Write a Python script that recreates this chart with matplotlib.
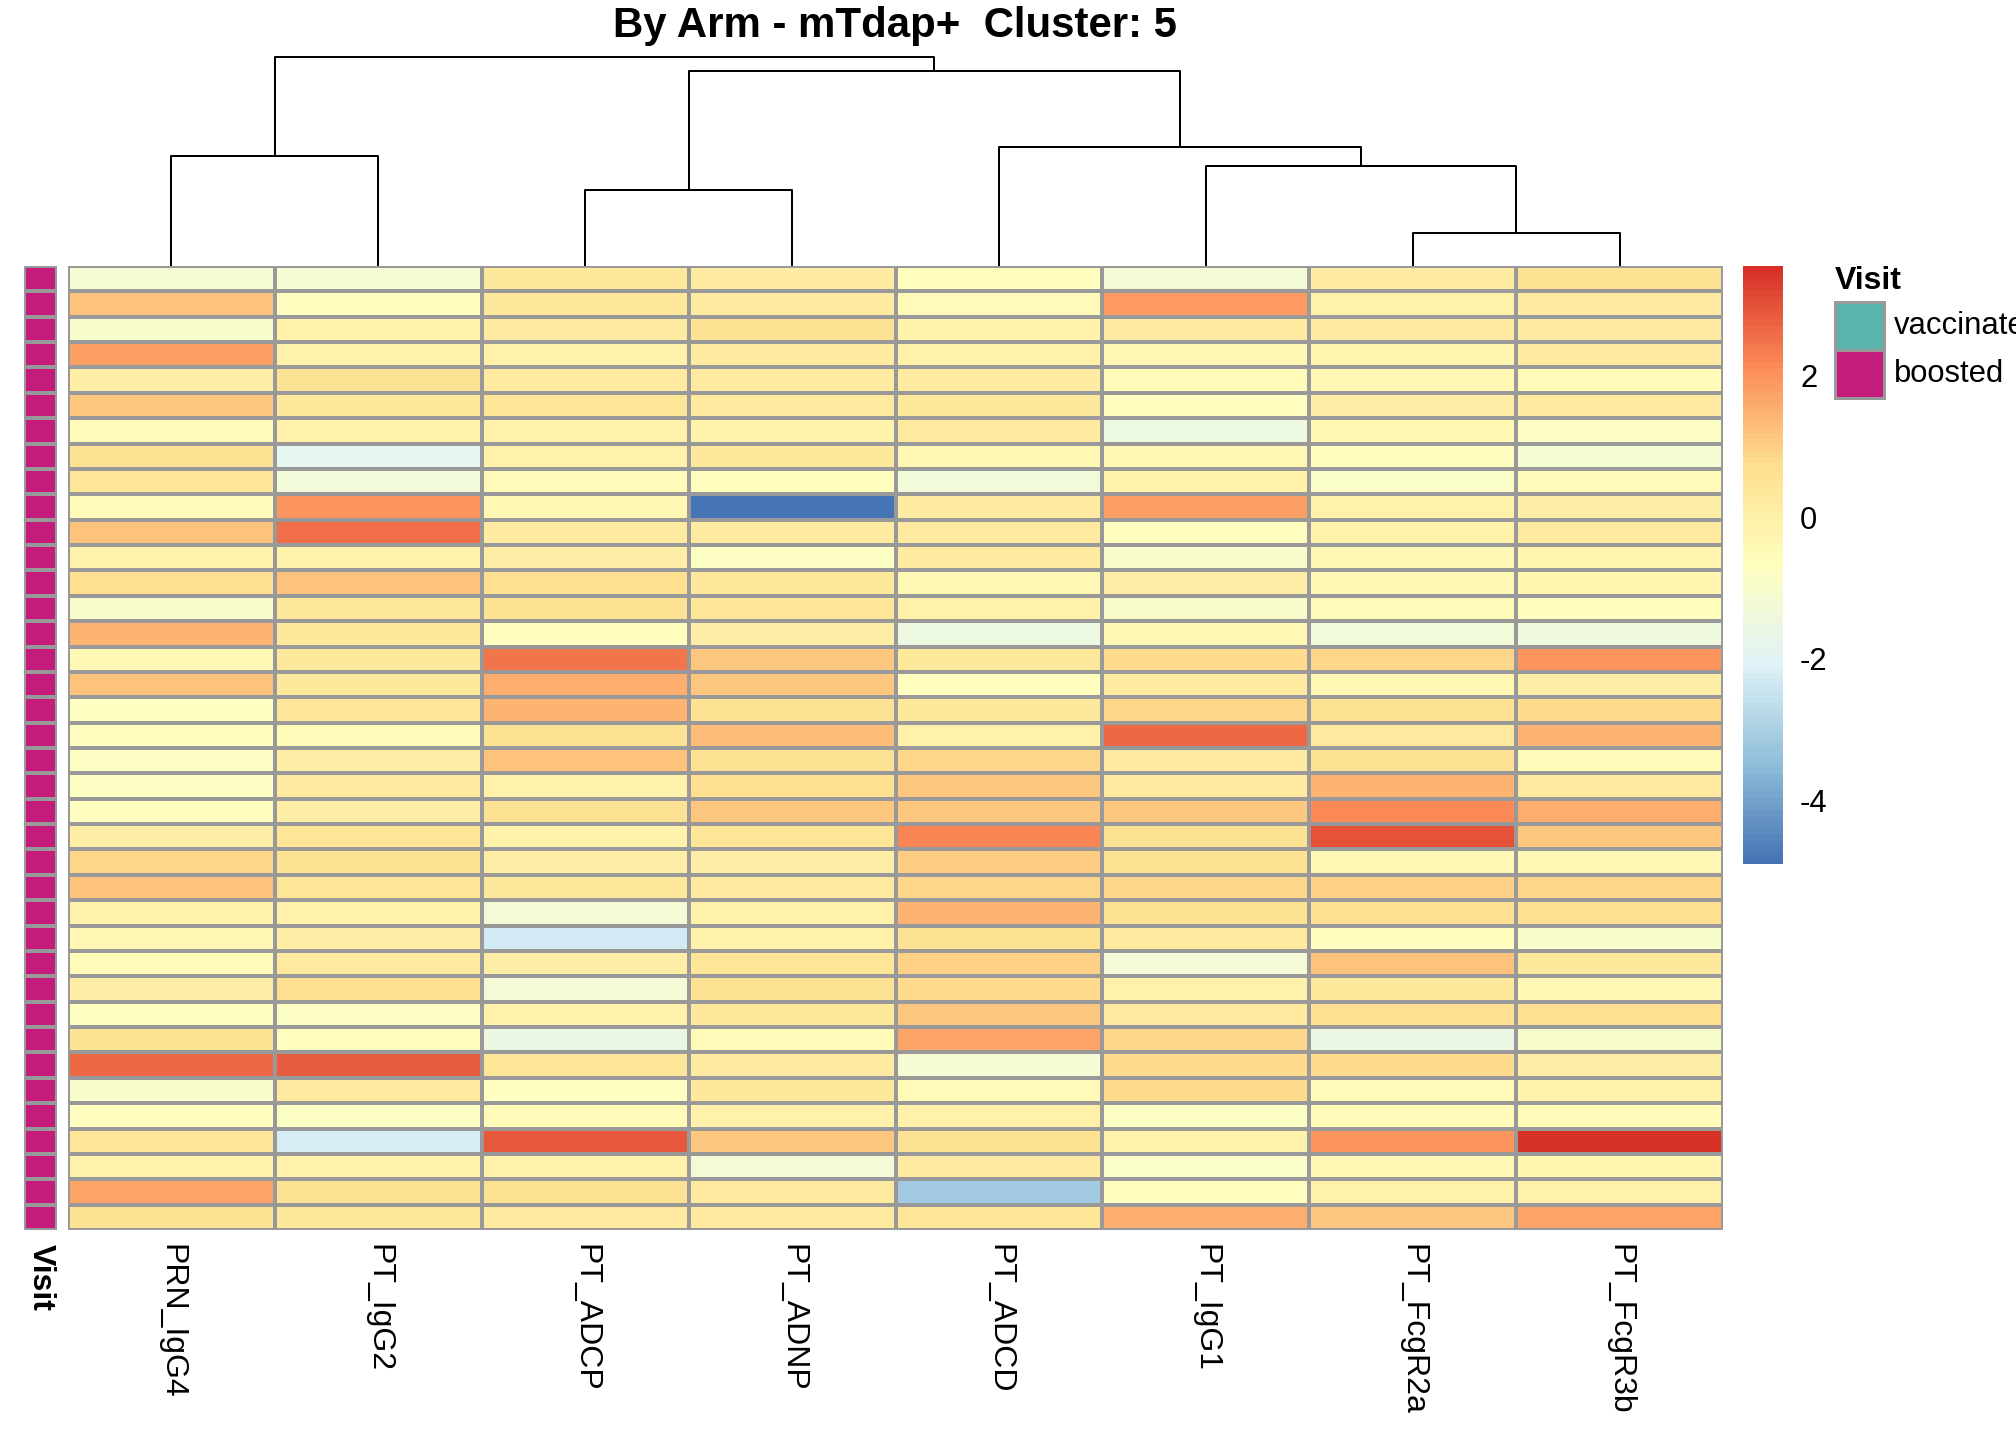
import numpy as np
import matplotlib
matplotlib.use("Agg")
import matplotlib.pyplot as plt
from matplotlib.colors import LinearSegmentedColormap, ListedColormap
from matplotlib.patches import Rectangle

plt.rcParams['font.family'] = ['Liberation Sans', 'DejaVu Sans']

# column order as drawn (after clustering)
features = ['PRN_IgG4', 'PT_IgG2', 'PT_ADCP', 'PT_ADNP',
            'PT_ADCD', 'PT_IgG1', 'PT_FcgR2a', 'PT_FcgR3b']

# scaled values, one row per sample
values = [
    [-1.1, -1.1,  0.4,  0.2, -0.6, -1.2,  0.2,  0.6],
    [ 1.2, -0.6,  0.4,  0.2, -0.5,  1.9,  0.0,  0.2],
    [-1.0,  0.0,  0.2,  0.6, -0.1,  0.2,  0.2,  0.2],
    [ 1.85, 0.0,  0.0,  0.2,  0.0, -0.3, -0.2,  0.2],
    [ 0.1,  0.65, 0.3,  0.2,  0.2, -0.5, -0.3, -0.5],
    [ 1.1,  0.4,  0.5,  0.3,  0.4, -0.6,  0.1,  0.2],
    [-0.5,  0.0,  0.0, -0.1,  0.3, -1.5, -0.3, -0.8],
    [ 0.6, -1.8,  0.0,  0.4, -0.3, -0.3, -0.6, -1.1],
    [ 0.5, -1.3, -0.5, -0.6, -1.3,  0.0, -0.9, -0.5],
    [-0.5,  1.95,-0.3, -4.9,  0.2,  1.85, 0.0,  0.1],
    [ 1.2,  2.6,  0.2,  0.2,  0.3, -0.6, -0.1,  0.3],
    [ 0.0, -0.1,  0.1, -0.8,  0.2, -1.0, -0.4, -0.2],
    [ 0.7,  1.2,  0.7,  0.4, -0.4,  0.1, -0.4, -0.2],
    [-1.0,  0.4,  0.6,  0.5,  0.0, -1.0, -0.5, -0.6],
    [ 1.5,  0.4, -0.6,  0.1, -1.5, -0.4, -1.3, -1.4],
    [-0.4,  0.4,  2.5,  1.1,  0.4,  0.8,  0.9,  1.95],
    [ 1.25, 0.4,  1.6,  1.1, -0.6,  0.2, -0.3,  0.1],
    [-0.7,  0.5,  1.5,  0.6,  0.4,  0.9,  0.6,  0.8],
    [-0.6, -0.5,  0.6,  1.3,  0.0,  2.7,  0.3,  1.5],
    [-0.8,  0.1,  1.2,  0.6,  0.9,  0.2,  0.6, -0.5],
    [-0.8,  0.2,  0.0,  0.7,  1.1,  0.2,  1.5,  0.3],
    [-0.6,  0.1,  0.6,  1.1,  1.1,  1.1,  2.15, 1.55],
    [ 0.1,  0.5, -0.1,  0.5,  2.2,  0.6,  3.0,  1.1],
    [ 0.85, 0.6,  0.1,  0.1,  1.05, 0.6, -0.4, -0.4],
    [ 1.2,  0.5,  0.4,  0.3,  0.9,  0.9,  1.0,  0.9],
    [ 0.0,  0.0, -1.2,  0.0,  1.5,  0.6,  0.7,  0.7],
    [-0.3,  0.1, -2.3,  0.0,  0.6,  0.3, -0.6, -1.0],
    [-0.5,  0.3,  0.1,  0.5,  1.0, -1.2,  1.2,  0.4],
    [ 0.1,  0.7, -1.2,  0.6,  0.8,  0.0,  0.4, -0.4],
    [-0.7, -0.8,  0.0,  0.4,  1.1,  0.3,  0.7,  0.7],
    [ 0.6, -0.6, -1.6, -0.5,  1.75, 0.9, -1.6, -1.0],
    [ 2.65, 2.85, 0.5,  0.2, -1.1,  0.8,  0.8,  0.1],
    [-1.0,  0.2, -0.7,  0.4, -0.5,  0.8, -0.5, -0.1],
    [-0.6, -0.8, -0.5,  0.0,  0.0, -0.8, -0.5, -0.5],
    [ 0.5, -2.2,  2.9,  1.1,  0.6,  0.0,  2.0,  3.55],
    [ 0.0,  0.0,  0.0, -1.2,  0.2, -0.9, -0.4, -0.2],
    [ 1.75, 0.6,  0.6,  0.3, -3.2, -0.6,  0.0,  0.0],
    [ 0.6,  0.4,  0.3,  0.3,  0.5,  1.6,  1.15, 1.7],
]

visit = ['boosted'] * len(values)
visit_levels = ['vaccinated', 'boosted']
visit_colors = {'vaccinated': '#5AB4AC', 'boosted': '#C51B7D'}

# column dendrogram: (left, right, height); leaves 0..7, new nodes from 8
col_merges = [
    (6, 7, 33.3),
    (2, 3, 75.7),
    (5, 8, 100.1),
    (0, 1, 110.4),
    (4, 10, 119.4),
    (9, 12, 195.3),
    (11, 13, 209.4),
]

title = 'By Arm - mTdap+  Cluster: 5'

# ---------------------------------------------------------------
mat = np.array(values)
n_rows, n_cols = mat.shape
vmin, vmax = mat.min(), mat.max()

rdylbu = ['#D73027', '#FC8D59', '#FEE090', '#FFFFBF', '#E0F3F8', '#91BFDB', '#4575B4']
cmap = LinearSegmentedColormap.from_list('pheat', rdylbu[::-1], N=100)
border = '#999999'

W, H = 2016, 1440
fig = plt.figure(figsize=(14, 10), dpi=144)


def px_axes(x0, y0, x1, y1):
    return fig.add_axes([x0 / W, 1 - y1 / H, (x1 - x0) / W, (y1 - y0) / H])


# heatmap
ax = px_axes(68, 266, 1723, 1230)
ax.pcolormesh(mat, cmap=cmap, vmin=vmin, vmax=vmax,
              edgecolors=border, linewidth=1.1)
ax.set_xlim(0, n_cols)
ax.set_ylim(n_rows, 0)
ax.set_xticks(np.arange(n_cols) + 0.5)
ax.set_xticklabels(features, rotation=270, va='top', ha='center', fontsize=16)
ax.set_yticks([])
ax.tick_params(axis='x', length=0, pad=7)
for s in ax.spines.values():
    s.set_visible(False)

# annotation column
ax_ann = px_axes(24, 266, 57, 1230)
ann_cmap = ListedColormap([visit_colors[v] for v in visit_levels])
ann_idx = np.array([[visit_levels.index(v)] for v in visit])
ax_ann.pcolormesh(ann_idx, cmap=ann_cmap, vmin=-0.5, vmax=1.5,
                  edgecolors=border, linewidth=1.1)
ax_ann.set_xlim(0, 1)
ax_ann.set_ylim(n_rows, 0)
ax_ann.set_xticks([0.5])
ax_ann.set_xticklabels(['Visit'], rotation=270, va='top', ha='center',
                       fontsize=16, fontweight='bold')
ax_ann.set_yticks([])
ax_ann.tick_params(axis='x', length=0, pad=7)
for s in ax_ann.spines.values():
    s.set_visible(False)

# dendrogram on top
ax_d = px_axes(68, 57, 1723, 266)
pos = {i: i + 0.5 for i in range(n_cols)}
hgt = {i: 0.0 for i in range(n_cols)}
for k, (a, b, h) in enumerate(col_merges):
    node = n_cols + k
    ax_d.plot([pos[a], pos[a], pos[b], pos[b]], [hgt[a], h, h, hgt[b]],
              color='black', lw=1.0, clip_on=False, solid_capstyle='butt')
    pos[node] = (pos[a] + pos[b]) / 2
    hgt[node] = h
ax_d.set_xlim(0, n_cols)
ax_d.set_ylim(0, max(m[2] for m in col_merges))
ax_d.axis('off')

# colour key
ax_c = px_axes(1743, 266, 1782, 864)
grad = np.linspace(vmin, vmax, 100).reshape(-1, 1)
ax_c.imshow(grad, cmap=cmap, vmin=vmin, vmax=vmax, aspect='auto',
            origin='lower', extent=[0, 1, vmin, vmax])
ax_c.set_xticks([])
ax_c.yaxis.tick_right()
ax_c.set_yticks([-4, -2, 0, 2])
ax_c.set_yticklabels(['-4', '-2', '0', '2'], fontsize=15.5)
ax_c.tick_params(axis='y', length=0, pad=9)
for s in ax_c.spines.values():
    s.set_visible(False)

# annotation legend
fig.text(1835 / W, 1 - 281 / H, 'Visit', fontsize=16, fontweight='bold',
         ha='left', va='center')
box_top = 302
box_h = 48
for i, lev in enumerate(visit_levels):
    y0 = box_top + i * box_h
    fig.patches.append(Rectangle((1835 / W, 1 - (y0 + box_h) / H), 49 / W, box_h / H,
                                 transform=fig.transFigure, facecolor=visit_colors[lev],
                                 edgecolor=border, linewidth=1.5))
    fig.text(1894 / W, 1 - (y0 + box_h / 2) / H, lev, fontsize=15.5,
             ha='left', va='center')

fig.text(895 / W, 1 - 26 / H, title, fontsize=21, fontweight='bold',
         ha='center', va='center')

fig.savefig('out.png', dpi=144)
